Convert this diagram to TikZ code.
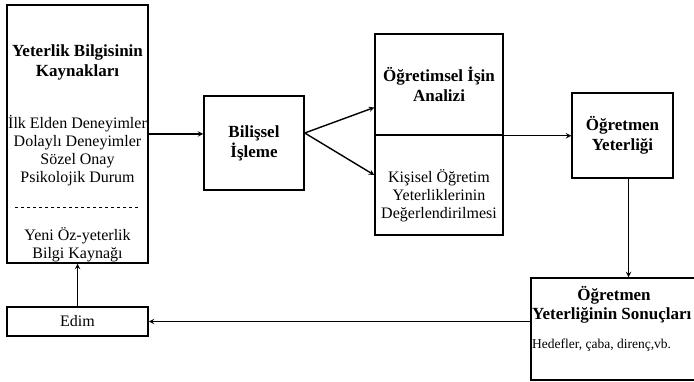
\documentclass[tikz,border=0pt]{standalone}
\usepackage{fontspec}
\setmainfont{Liberation Serif}
\usetikzlibrary{arrows}
\tikzstyle{box} = [rectangle, draw=black, line width=1.5pt, inner sep=0pt]
\tikzstyle{txt} = [align=center, font=\fontsize{16}{18}\selectfont]
\tikzstyle{ttl} = [align=center, font=\fontsize{17}{20}\selectfont\bfseries]
\tikzstyle{arrow} = [line width=1.4pt,->,>=stealth]

\begin{document}
\begin{tikzpicture}[x=1pt, y=-1pt]
   \useasboundingbox (0,0) rectangle (694,382);
   \node (src) [box, minimum width=141, minimum height=258] at (77.5,134) {};
   \node (srcttl) [ttl] at (77.5,62) {Yeterlik Bilgisinin\\Kaynakları};
   \node (srclist) [txt] at (77.5,151) {İlk Elden Deneyimler\\Dolaylı Deneyimler\\Sözel Onay\\Psikolojik Durum};
   \draw [dashed, line width=0.6pt] (15,207) -- (140,207);
   \node (srcnew) [txt] at (77.5,245) {Yeni Öz-yeterlik\\Bilgi Kaynağı};
   \node (edim) [box, txt, minimum width=141, minimum height=29] at (77.5,321.5) {Edim};
   \node (bil) [box, ttl, minimum width=100, minimum height=94] at (254,143) {Bilişsel\\İşleme};
   \node (anl) [box, ttl, minimum width=128, minimum height=101] at (439,84.5) {Öğretimsel İşin\\Analizi};
   \node (deg) [box, minimum width=128, minimum height=100] at (439,185) {};
   \node (degtxt) [txt] at (439,196) {Kişisel Öğretim\\Yeterliklerinin\\Değerlendirilmesi};
   \node (ogy) [box, ttl, minimum width=101, minimum height=85] at (622.5,135.5) {Öğretmen\\Yeterliği};
   \node (son) [box, minimum width=170, minimum height=102] at (616,329) {};
   \node (sonttl) [ttl] at (614,295) {Öğretmen};
   \node (sonsub) [ttl, anchor=west, inner sep=1pt] at (531,315) {Yeterliğinin Sonuçları};
   \node (sonnote) [anchor=west, inner sep=1pt, font=\fontsize{13.5}{16}\selectfont] at (531,345) {Hedefler, çaba, direnç,vb.};

   \draw [arrow] (src.east) -- (src.east -| bil.west);
   \draw [arrow] ([yshift=10pt]bil.east) -- ([yshift=-23pt]anl.west);
   \draw [arrow] ([yshift=10pt]bil.east) -- ([yshift=10pt]deg.west);
   \draw [arrow] (anl.south east) -- (anl.south east -| ogy.west);
   \draw [arrow] ([xshift=6pt]ogy.south) -- ([xshift=6pt]ogy.south |- son.north);
   \draw [arrow] (son.west |- edim.east) -- (edim.east);
   \draw [arrow] (edim) -- (src);
\end{tikzpicture}
\end{document}
